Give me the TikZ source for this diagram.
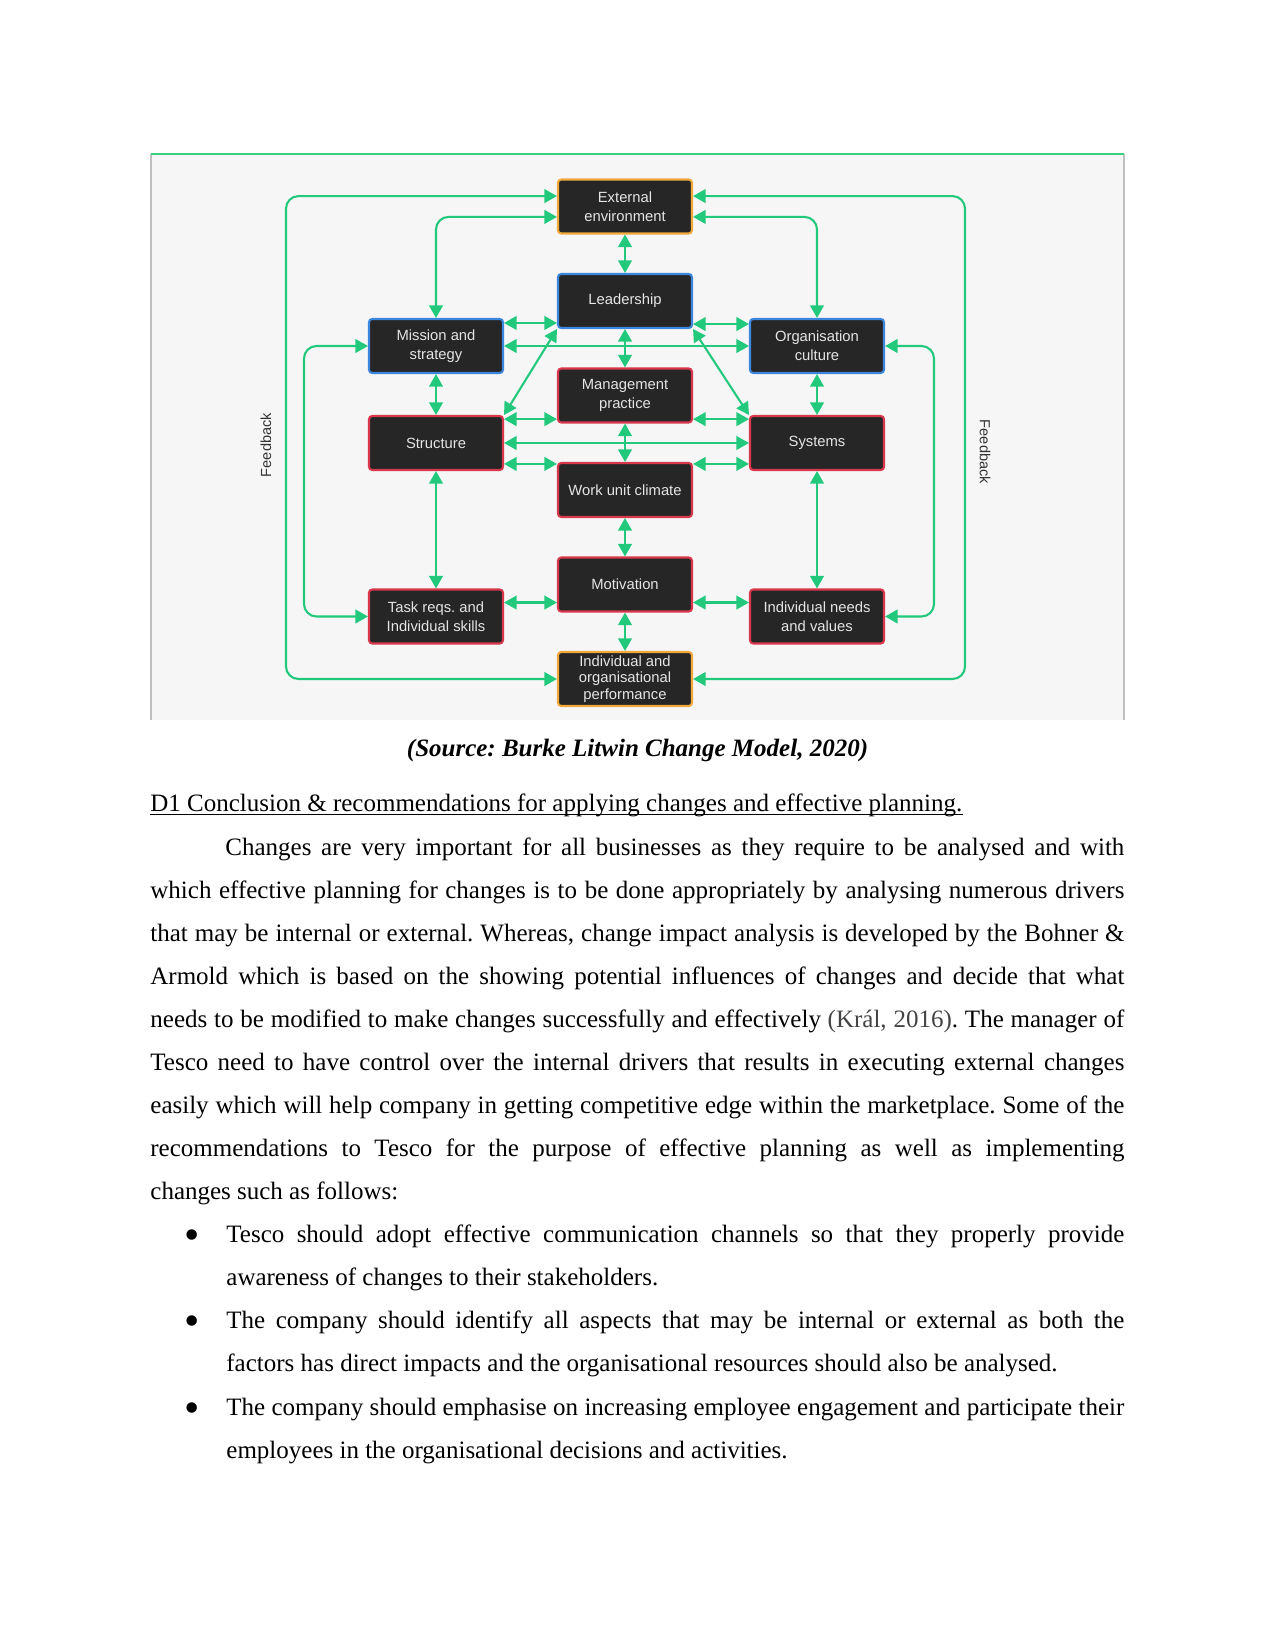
\documentclass[tikz,border=0pt]{standalone}
\usepackage{fontspec}
\setmainfont{Liberation Serif}
\newfontfamily\boxfont{Liberation Sans}
\frenchspacing
\usetikzlibrary{arrows.meta, positioning, calc}

\definecolor{arrowgreen}{HTML}{22C97C}
\definecolor{topgreen}{HTML}{3AD07F}
\definecolor{boxfill}{HTML}{262626}
\definecolor{edgeorange}{HTML}{F2A93B}
\definecolor{edgeblue}{HTML}{3C87DD}
\definecolor{edgered}{HTML}{D9374B}
\definecolor{figback}{HTML}{F6F6F6}
\definecolor{citegray}{HTML}{444444}

\newcommand{\bulletmark}{\llap{\raisebox{-3.4pt}{\fontsize{21pt}{21pt}\selectfont\textbullet}\hspace{12.6pt}}}

\begin{document}
\begin{tikzpicture}[
    x=0.48pt, y=-0.48pt,
    node distance=45.36pt,
    box/.style={rectangle, rounded corners=1.5pt, draw=edgered, line width=1pt, fill=boxfill,
        text=white!90!black, font=\boxfont\fontsize{7.1pt}{9pt}\selectfont, align=center,
        minimum width=64.3pt, minimum height=25.9pt, inner sep=1pt},
    outerbox/.style={box, draw=edgeorange},
    drivebox/.style={box, draw=edgeblue},
    twoway/.style={<->, >={Triangle[length=6pt,width=6.5pt]}, draw=arrowgreen, line width=1pt},
    fbline/.style={twoway, rounded corners=6pt},
    fblabel/.style={font=\boxfont\fontsize{7pt}{8pt}\selectfont, text=black!80, inner sep=0pt},
    bodytext/.style={inner sep=0pt, font=\fontsize{12pt}{20.69pt}\selectfont, align=justify}
]
    % Page and figure frame
    \fill[white] (0,0) rectangle (1275,1651);
    \useasboundingbox (0,0) rectangle (1275,1651);
    \fill[figback] (151,154) rectangle (1124,720);
    \draw[black!25, line width=0.5pt] (151,154) -- (151,720) (1124,154) -- (1124,720);
    \draw[topgreen, line width=1.4pt] (151,154) -- (1124,154);

    % Centre column
    \node[outerbox] (ext) at (625,206.5) {External\\environment};
    \node[drivebox, below of=ext] (lead) {Leadership};
    \node[box, below of=lead] (mgmt) {Management\\practice};
    \node[box, below of=mgmt] (climate) {Work unit climate};
    \node[box, below of=climate] (motiv) {Motivation};
    \node[outerbox, below of=motiv, font=\boxfont\fontsize{7.1pt}{7.9pt}\selectfont] (perf) {Individual and\\organisational\\performance};

    % Left column
    \node[drivebox] (mission) at (436,346) {Mission and\\strategy};
    \node[box] (struct) at (436,443) {Structure};
    \node[box] (task) at (436,616.5) {Task reqs. and\\Individual skills};

    % Right column
    \node[drivebox] (culture) at (817,346) {Organisation\\culture};
    \node[box] (systems) at (817,443) {Systems};
    \node[box] (needs) at (817,616.5) {Individual needs\\and values};

    % Vertical links
    \draw[twoway] (ext) -- (lead);
    \draw[twoway] (lead) -- (mgmt);
    \draw[twoway] (mgmt) -- (climate);
    \draw[twoway] (climate) -- (motiv);
    \draw[twoway] (motiv) -- (perf);
    \draw[twoway] (mission) -- (struct);
    \draw[twoway] (struct) -- (task);
    \draw[twoway] (culture) -- (systems);
    \draw[twoway] (systems) -- (needs);

    % Horizontal links
    \draw[twoway] ([yshift=-2.4pt]mission.north east) -- ([yshift=-2.4pt]mission.north east -| lead.west);
    \draw[twoway] ([yshift=2.4pt]lead.south east) -- ([yshift=2.4pt]lead.south east -| culture.west);
    \draw[twoway] (mission.east) -- (culture.west);
    \draw[twoway] ([yshift=-2pt]struct.north east) -- ([yshift=-2pt]struct.north east -| mgmt.west);
    \draw[twoway] ([yshift=-2pt]systems.north west) -- ([yshift=-2pt]systems.north west -| mgmt.east);
    \draw[twoway] (struct.east) -- (systems.west);
    \draw[twoway] ([yshift=3.4pt]struct.south east) -- ([yshift=3.4pt]struct.south east -| climate.west);
    \draw[twoway] ([yshift=3.4pt]systems.south west) -- ([yshift=3.4pt]systems.south west -| climate.east);
    \draw[twoway] ([yshift=4.8pt]motiv.south west) -- ([yshift=4.8pt]motiv.south west -| task.east);
    \draw[twoway] ([yshift=4.8pt]motiv.south east) -- ([yshift=4.8pt]motiv.south east -| needs.west);

    % Diagonal links
    \draw[twoway] (lead.south west) -- (struct.north east);
    \draw[twoway] (lead.south east) -- (systems.north west);

    % Feedback loops
    \coordinate (railLo) at (286,0);
    \coordinate (railLi) at (304,0);
    \coordinate (railRi) at (934,0);
    \coordinate (railRo) at (965,0);
    \draw[fbline] ([yshift=5pt]ext.west) -| (railLo |- perf.west) -- (perf.west);
    \draw[fbline] ([yshift=5pt]ext.east) -| (railRo |- perf.east) -- (perf.east);
    \draw[fbline] ([yshift=-5pt]ext.west) -| (mission.north);
    \draw[fbline] ([yshift=-5pt]ext.east) -| (culture.north);
    \draw[fbline] (mission.west) -| (railLi |- task.west) -- (task.west);
    \draw[fbline] (culture.east) -| (railRi |- needs.east) -- (needs.east);
    \node[fblabel, rotate=90] (fbleft) at (266,445) {Feedback};
    \node[fblabel, rotate=-90] (fbright) at (985,452) {Feedback};

    % Caption and heading
    \node[anchor=base, inner sep=0pt, font=\fontsize{12pt}{14pt}\selectfont\bfseries\itshape] (caption) at (637.5,756.7) {(Source: Burke Litwin Change Model, 2020)};
    \node[anchor=base west, inner sep=0pt, font=\fontsize{12pt}{14pt}\selectfont] (heading) at (150,811.7) {D1 Conclusion \& recommendations for applying changes and effective planning.};
    \draw[line width=0.6pt] ([yshift=-1.5pt]heading.base west) -- ([yshift=-1.5pt]heading.base east);

    % Body paragraph
    \node[bodytext, text width=467.5pt, anchor=base west] (para) at (150,855) {\hspace*{36pt}Changes are very important for all businesses as they require to be analysed and with\linebreak
    which effective planning for changes is to be done appropriately by analysing numerous drivers\linebreak
    that may be internal or external. Whereas, change impact analysis is developed by the Bohner \&\linebreak
    Armold which is based on the showing potential influences of changes and decide that what\linebreak
    needs to be modified to make changes successfully and effectively {\color{citegray}(Král, 2016)}. The manager of\linebreak
    Tesco need to have control over the internal drivers that results in executing external changes\linebreak
    easily which will help company in getting competitive edge within the marketplace. Some of the\linebreak
    recommendations to Tesco for the purpose of effective planning as well as implementing\linebreak
    changes such as follows:};

    % Bullet points
    \node[bodytext, text width=431pt, anchor=base west] (tipA) at (226,1242.7) {\bulletmark Tesco should adopt effective communication channels so that they properly provide\linebreak
    awareness of changes to their stakeholders.};
    \node[bodytext, text width=431pt, anchor=base west] (tipB) at (226,1328.5) {\bulletmark The company should identify all aspects that may be internal or external as both the\linebreak
    factors has direct impacts and the organisational resources should also be analysed.};
    \node[bodytext, text width=431pt, anchor=base west] (tipC) at (226,1415) {\bulletmark The company should emphasise on increasing employee engagement and participate their\linebreak
    employees in the organisational decisions and activities.};
\end{tikzpicture}
\end{document}
